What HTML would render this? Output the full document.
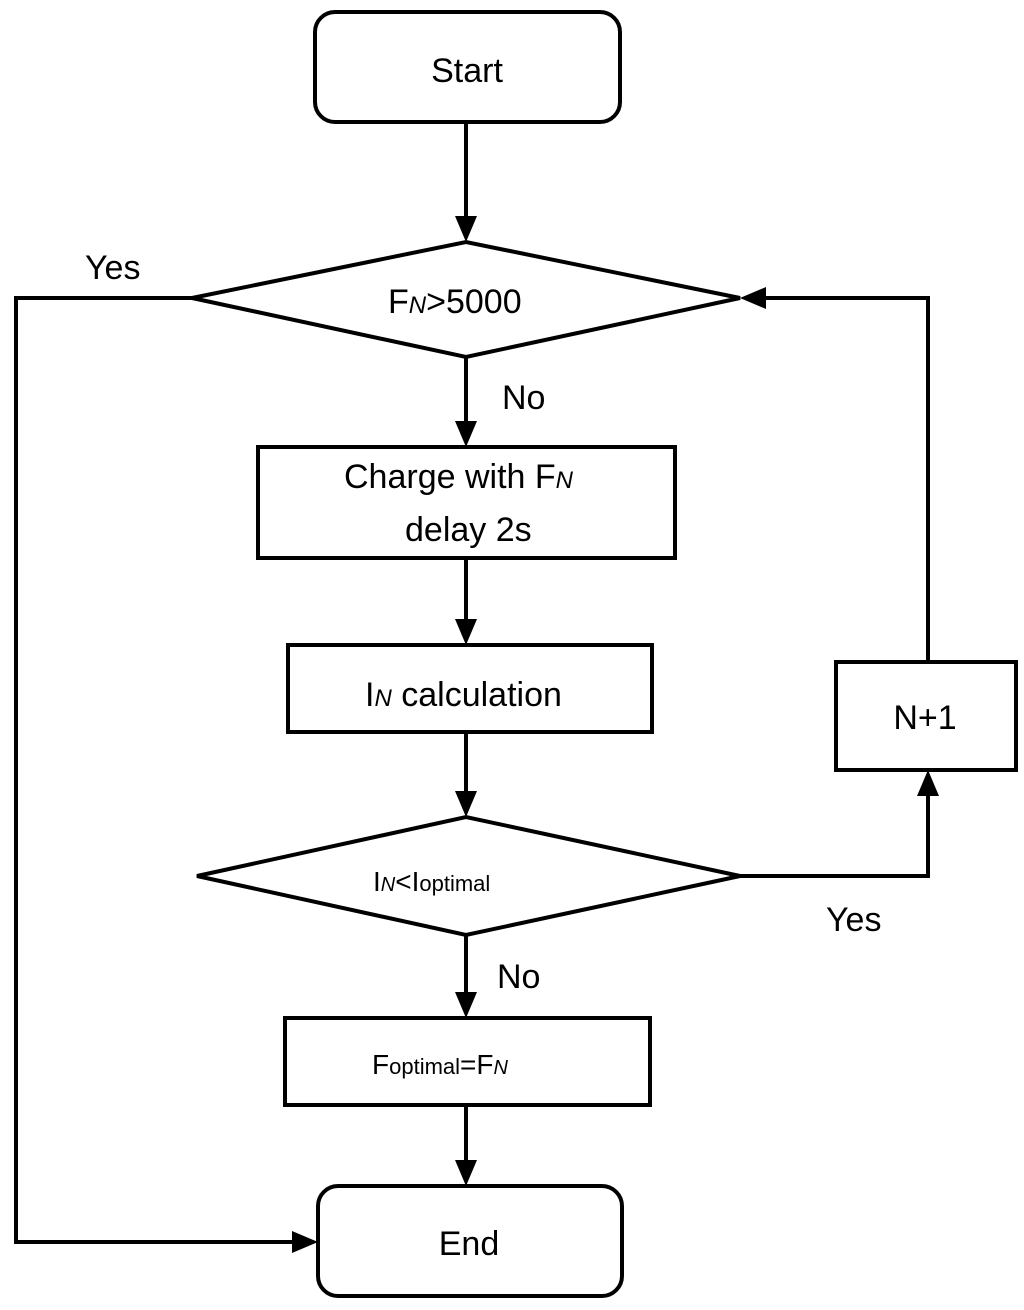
<!DOCTYPE html>
<html><head><meta charset="utf-8"><style>
html,body{margin:0;padding:0;background:#fff;}
svg{display:block;}
text{font-family:"Liberation Sans",sans-serif;fill:#000;}
</style></head><body>
<svg width="1024" height="1310" viewBox="0 0 1024 1310" xmlns="http://www.w3.org/2000/svg">
<defs>
<marker id="a" markerWidth="10" markerHeight="10" refX="9" refY="5" orient="auto" markerUnits="userSpaceOnUse" viewBox="0 0 10 10">
</marker>
</defs>
<g fill="none" stroke="#000" stroke-width="4">
<rect x="315" y="12" width="305" height="110" rx="20"/>
<polygon points="192,298 466,242 740,298 466,357"/>
<rect x="258" y="447" width="417" height="111"/>
<rect x="288" y="645" width="364" height="87"/>
<polygon points="197,876 466,817 740,876 466,935"/>
<rect x="836" y="662" width="180" height="108"/>
<rect x="285" y="1018" width="365" height="87"/>
<rect x="318" y="1186" width="304" height="110" rx="20"/>
<line x1="466" y1="122" x2="466" y2="222"/>
<line x1="466" y1="357" x2="466" y2="427"/>
<line x1="466" y1="558" x2="466" y2="625"/>
<line x1="466" y1="732" x2="466" y2="797"/>
<line x1="466" y1="935" x2="466" y2="998"/>
<line x1="466" y1="1105" x2="466" y2="1166"/>
<polyline points="192,298 16,298 16,1242 298,1242"/>
<polyline points="740,876 928,876 928,790"/>
<polyline points="928,662 928,298 760,298"/>
</g>
<g fill="#000">
<polygon points="455,216 477,216 466,242"/>
<polygon points="455,421 477,421 466,447"/>
<polygon points="455,619 477,619 466,645"/>
<polygon points="455,791 477,791 466,817"/>
<polygon points="455,992 477,992 466,1018"/>
<polygon points="455,1160 477,1160 466,1186"/>
<polygon points="292,1231 292,1253 318,1242"/>
<polygon points="917,796 939,796 928,770"/>
<polygon points="766,287 766,309 740,298"/>
</g>
<g font-size="34">
<text x="467" y="82" text-anchor="middle">Start</text>
<text x="388" y="313">F<tspan font-style="italic" font-size="24">N</tspan>&gt;5000</text>
<text x="85" y="279">Yes</text>
<text x="502" y="409">No</text>
<text x="344" y="488">Charge with F<tspan font-style="italic" font-size="24">N</tspan></text>
<text x="405" y="541">delay 2s</text>
<text x="365" y="706">I<tspan font-style="italic" font-size="24">N</tspan> calculation</text>
<text x="373" y="891" font-size="28">I<tspan font-style="italic" font-size="20">N</tspan>&lt;I<tspan font-size="22">optimal</tspan></text>
<text x="826" y="931">Yes</text>
<text x="497" y="988">No</text>
<text x="925" y="729" text-anchor="middle">N+1</text>
<text x="372" y="1074" font-size="28">F<tspan font-size="22">optimal</tspan>=F<tspan font-style="italic" font-size="20">N</tspan></text>
<text x="469" y="1255" text-anchor="middle">End</text>
</g>
</svg>
</body></html>
